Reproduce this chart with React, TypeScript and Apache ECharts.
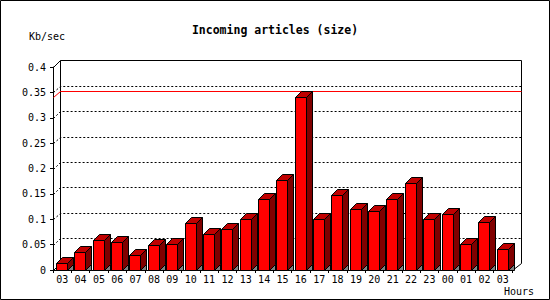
import React, { useEffect, useRef } from "react";
import * as echarts from "echarts";

const hours = ["03","04","05","06","07","08","09","10","11","12","13","14","15","16","17","18","19","20","21","22","23","00","01","02","03"];
const kbPerSec = [0.013,0.035,0.060,0.056,0.029,0.049,0.051,0.092,0.070,0.080,0.101,0.140,0.177,0.340,0.101,0.147,0.121,0.116,0.139,0.171,0.100,0.110,0.051,0.094,0.041];
const yTicks = [0,0.05,0.1,0.15,0.2,0.25,0.3,0.35,0.4];
const maxValue = [Math.max(...kbPerSec)];

const FONT = "DejaVu Sans Mono";
const DX = 7;
const DY = 6.5;
const r = (v: number) => Math.round(v) + 0.5;

export default function App() {
  const ref = useRef<HTMLDivElement>(null);
  useEffect(() => {
    const chart = echarts.init(ref.current!, null, { renderer: "svg" });
    const option: any = {
      animation: false,
      backgroundColor: "#ffffff",
      title: {
        text: "Incoming articles (size)",
        left: "center",
        top: 19,
        textStyle: { fontFamily: FONT, fontSize: 11.5, fontWeight: "bold", color: "#000" },
      },
      grid: { left: 53, right: 38, top: 67, bottom: 30 },
      xAxis: {
        type: "category",
        data: hours,
        axisLine: { lineStyle: { color: "#000", width: 1 } },
        axisTick: { show: true, length: 3, lineStyle: { color: "#000" } },
        axisLabel: { color: "#000", fontFamily: FONT, fontSize: 10, margin: 4, interval: 0 },
        splitLine: { show: false },
      },
      yAxis: {
        type: "value",
        min: 0,
        max: 0.4,
        interval: 0.05,
        axisLine: { show: true, lineStyle: { color: "#000", width: 1 } },
        axisTick: { show: true, length: 3, lineStyle: { color: "#000" } },
        axisLabel: { color: "#000", fontFamily: FONT, fontSize: 10, margin: 7 },
        splitLine: { show: false },
      },
      graphic: [
        {
          type: "rect",
          shape: { x: 0.5, y: 0.5, width: 549, height: 299 },
          style: { fill: "none", stroke: "#000", lineWidth: 1 },
          silent: true,
        },
        {
          type: "text",
          left: 29,
          top: 31,
          style: { text: "Kb/sec", fontFamily: FONT, fontSize: 10, fill: "#000" },
        },
        {
          type: "text",
          left: 504,
          top: 286,
          style: { text: "Hours", fontFamily: FONT, fontSize: 10, fill: "#000" },
        },
      ],
      series: [
        {
          type: "custom",
          name: "gridlines",
          silent: true,
          z: 1,
          data: yTicks.filter((v) => v > 0 && v < 0.4).map((v) => [0, v]),
          renderItem: (params: any, api: any) => {
            const cs = params.coordSys;
            const p = api.coord([0, api.value(1)]);
            const xl = r(cs.x);
            const xr = r(cs.x + cs.width + 8.5);
            const y = r(p[1]);
            const yb = r(p[1] - DY);
            return {
              type: "polyline",
              shape: { points: [[xl, y], [xl + DX, yb], [xr, yb]] },
              style: { stroke: "#000", lineWidth: 1, fill: "none", lineDash: [2, 2] },
            };
          },
        },
        {
          type: "custom",
          name: "backplane",
          silent: true,
          z: 2,
          data: [[0, 0.4]],
          renderItem: (params: any, api: any) => {
            const cs = params.coordSys;
            const top = api.coord([0, api.value(1)]);
            const bot = api.coord([0, 0]);
            const xl = r(cs.x);
            const xr = r(cs.x + cs.width + 8.5);
            const xfr = r(cs.x + cs.width);
            const yt = r(top[1]);
            const yb = r(bot[1]);
            return {
              type: "group",
              children: [
                {
                  type: "polyline",
                  shape: { points: [[xl, yt], [xl + DX, yt - 7], [xr, yt - 7], [xr, yb - 7], [xfr, yb]] },
                  style: { stroke: "#000", lineWidth: 1, fill: "none" },
                },
                {
                  type: "polyline",
                  shape: { points: [[xl, yb], [xl + DX, yb - 7], [xl + DX, yt - 7]] },
                  style: { stroke: "#000", lineWidth: 1, fill: "none" },
                },
              ],
            };
          },
        },
        {
          type: "custom",
          name: "max",
          silent: true,
          z: 3,
          data: maxValue.map((v) => [0, v]),
          renderItem: (params: any, api: any) => {
            const cs = params.coordSys;
            const p = api.coord([0, api.value(1)]);
            const xl = r(cs.x);
            const xr = r(cs.x + cs.width + 8.5);
            const y = r(p[1]);
            const yb = r(p[1] - DY);
            return {
              type: "polyline",
              shape: { points: [[xl, y], [xl + DX, yb], [xr, yb]] },
              style: { stroke: "#ff0000", lineWidth: 1, fill: "none" },
            };
          },
        },
        {
          type: "custom",
          name: "Kb/sec",
          z: 4,
          data: kbPerSec.map((v, i) => [i, v]),
          renderItem: (params: any, api: any) => {
            const i = api.value(0);
            const v = api.value(1);
            const p0 = api.coord([i, 0]);
            const p1 = api.coord([i, v]);
            const bw = api.size([1, 0])[0];
            const w = 11;
            const d = 6;
            const xl = r(p0[0] - bw / 2 + 3);
            const xr = xl + w;
            const yB = r(p0[1]);
            const yT = r(p1[1]);
            const stroke = { stroke: "#000", lineWidth: 1 };
            return {
              type: "group",
              children: [
                {
                  type: "polygon",
                  shape: { points: [[xr, yB], [xr + d, yB - d], [xr + d, yB]] },
                  style: { fill: "#808080", ...stroke },
                },
                {
                  type: "polygon",
                  shape: { points: [[xr, yT], [xr + d, yT - d], [xr + d, yB - d], [xr, yB]] },
                  style: { fill: "#800000", ...stroke },
                },
                {
                  type: "polygon",
                  shape: { points: [[xl, yT], [xl + d, yT - d], [xr + d, yT - d], [xr, yT]] },
                  style: { fill: "#c00000", ...stroke },
                },
                {
                  type: "rect",
                  shape: { x: xl, y: yT, width: w, height: yB - yT },
                  style: { fill: "#ff0000", ...stroke },
                },
              ],
            };
          },
        },
      ],
    };
    chart.setOption(option);
    return () => chart.dispose();
  }, []);
  return (
    <div
      ref={ref}
      style={{ position: "fixed", left: 0, top: 0, width: 550, height: 300 }}
    />
  );
}
